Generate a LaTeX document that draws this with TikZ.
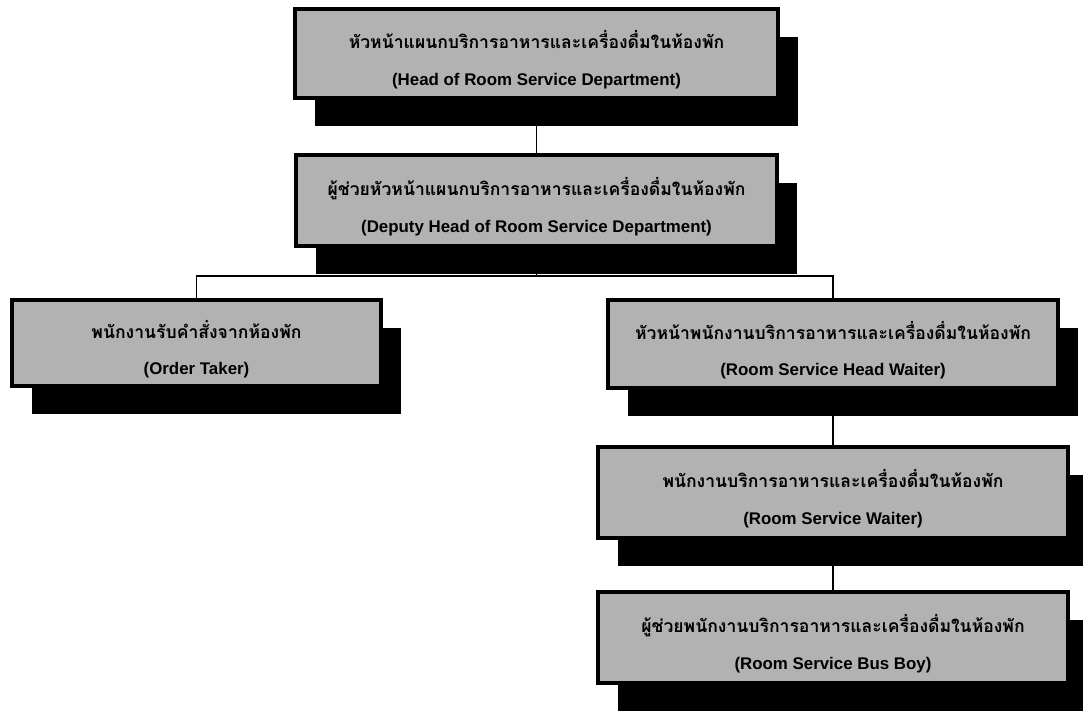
\documentclass[tikz,border=0pt]{standalone}
\usepackage{fontspec}
\setmainfont{Liberation Sans}
\newfontfamily\thaifont[Script=Thai]{Loma}
\usepackage{xcolor}
\definecolor{boxGray}{gray}{0.70}
\usepackage{tikz}
\usetikzlibrary{calc,shadows}

\tikzset{
  orgbox/.style={draw=black, line width=3pt, fill=boxGray, inner sep=0pt,
    align=center, font=\fontsize{12}{26}\selectfont\bfseries,
    general shadow={fill=black, shadow xshift=0.5cm, shadow yshift=-0.7cm}},
  link/.style={black, line width=1.1pt}
}
\newcommand{\orgtext}[2]{{\thaifont\fontsize{12.5}{26}\selectfont\rule{0pt}{22pt}#1}\\#2}

\begin{document}
\begin{tikzpicture}[x=0.025cm, y=0.025cm]
  \useasboundingbox (0,0) rectangle (1083,711);
  % ---- head and deputy ----
  \node[orgbox, minimum width=12.08cm, minimum height=2.22cm] (head) at (536.5,657.5)
    {\orgtext{หัวหน้าแผนกบริการอาหารและเครื่องดื่มในห้องพัก}{(Head of Room Service Department)}};
  \node[orgbox, minimum width=12.03cm, minimum height=2.28cm] (deputy) at (536.5,510.5)
    {\orgtext{ผู้ช่วยหัวหน้าแผนกบริการอาหารและเครื่องดื่มในห้องพัก}{(Deputy Head of Room Service Department)}};
  % ---- second level ----
  \node[orgbox, minimum width=9.22cm, minimum height=2.15cm] (order) at (196.5,368)
    {\orgtext{พนักงานรับคำสั่งจากห้องพัก}{(Order Taker)}};
  \node[orgbox, minimum width=11.25cm, minimum height=2.2cm] (headwaiter) at (833,367)
    {\orgtext{หัวหน้าพนักงานบริการอาหารและเครื่องดื่มในห้องพัก}{(Room Service Head Waiter)}};
  % ---- waiter chain ----
  \node[orgbox, minimum width=11.75cm, minimum height=2.28cm] (waiter) at (833,218.5)
    {\orgtext{พนักงานบริการอาหารและเครื่องดื่มในห้องพัก}{(Room Service Waiter)}};
  \node[orgbox, minimum width=11.75cm, minimum height=2.28cm] (busboy) at (833,73.5)
    {\orgtext{ผู้ช่วยพนักงานบริการอาหารและเครื่องดื่มในห้องพัก}{(Room Service Bus Boy)}};
  % ---- connectors ----
  \coordinate (bus) at ($(deputy.south)+(0,-28)$);
  \draw[link] (head.south) -- (deputy.north);
  \draw[link] (deputy.south) -- (bus) -| (order.north);
  \draw[link] (bus) -| (headwaiter.north);
  \draw[link] (headwaiter.south) -- (waiter.north);
  \draw[link] (waiter.south) -- (busboy.north);
\end{tikzpicture}
\end{document}
